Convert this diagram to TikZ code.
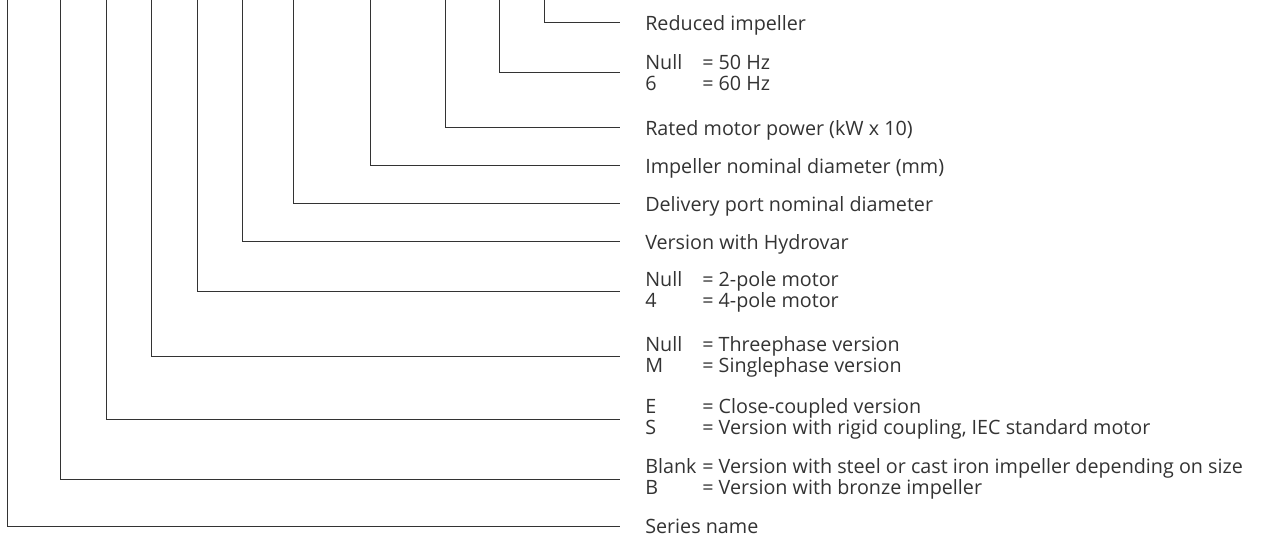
\documentclass[tikz,border=0pt]{standalone}
\usepackage{fontspec}
\setmainfont{Open Sans}
\definecolor{ink}{HTML}{333333}
\newlength{\keywd}
\setlength{\keywd}{42.75pt}
\newcommand{\kv}[2]{\makebox[\keywd][l]{#1}= #2}

\begin{document}
\begin{tikzpicture}[x=0.75pt,y=-0.75pt,
    every node/.style={anchor=west,inner xsep=18.75pt,inner ysep=0pt,align=left,text=ink,font=\fontsize{14.8}{15.8}\selectfont},
    single/.style={text height=14pt,text depth=3.43pt},
    lead/.style={draw=ink,line width=0.75pt}]
  \useasboundingbox (0,0) rectangle (1268,538);
  % labels, top to bottom
  \node[single] (red) at (620,23)  {Reduced impeller};
  \node (hz)  at (620,73)  {\kv{Null}{50 Hz}\\\kv{6}{60 Hz}};
  \node[single] (pow) at (620,128) {Rated motor power (kW x 10)};
  \node[single] (imp) at (620,166) {Impeller nominal diameter (mm)};
  \node[single] (del) at (620,204) {Delivery port nominal diameter};
  \node[single] (hyd) at (620,242) {Version with Hydrovar};
  \node (pol) at (620,292) {\kv{Null}{2-pole motor}\\\kv{4}{4-pole motor}};
  \node (pha) at (620,357) {\kv{Null}{Threephase version}\\\kv{M}{Singlephase version}};
  \node (cpl) at (620,419) {\kv{E}{Close-coupled version}\\\kv{S}{Version with rigid coupling, IEC standard motor}};
  \node (mat) at (620,479) {\kv{Blank}{Version with steel or cast iron impeller depending on size}\\\kv{B}{Version with bronze impeller}};
  \node[single] (ser) at (620,526) {Series name};
  % code positions along the top edge
  \coordinate (tser) at (7,0);
  \coordinate (tmat) at (60,0);
  \coordinate (tcpl) at (106,0);
  \coordinate (tpha) at (151,0);
  \coordinate (tpol) at (197,0);
  \coordinate (thyd) at (242,0);
  \coordinate (tdel) at (293,0);
  \coordinate (timp) at (370,0);
  \coordinate (tpow) at (445,0);
  \coordinate (thz)  at (499,0);
  \coordinate (tred) at (544,0);
  \draw[lead] (tred) |- (red.west);
  \draw[lead] (thz)  |- (hz.west);
  \draw[lead] (tpow) |- (pow.west);
  \draw[lead] (timp) |- (imp.west);
  \draw[lead] (tdel) |- (del.west);
  \draw[lead] (thyd) |- (hyd.west);
  \draw[lead] (tpol) |- (pol.west);
  \draw[lead] (tpha) |- (pha.west);
  \draw[lead] (tcpl) |- (cpl.west);
  \draw[lead] (tmat) |- (mat.west);
  \draw[lead] (tser) |- (ser.west);
\end{tikzpicture}
\end{document}
